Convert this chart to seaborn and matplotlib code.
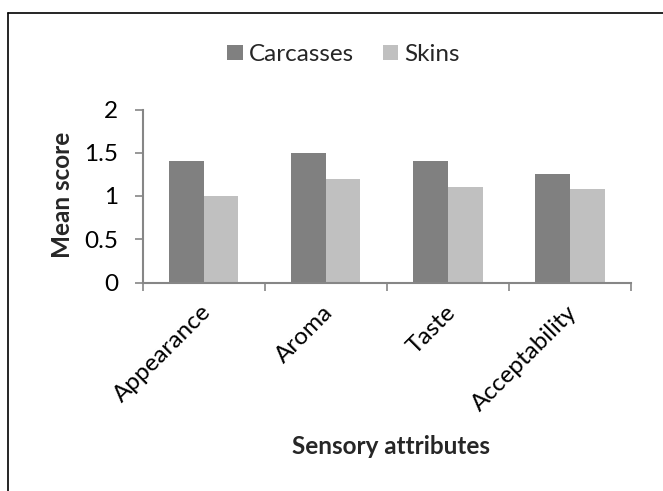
import matplotlib
matplotlib.use("Agg")
import matplotlib.pyplot as plt
import matplotlib.transforms as mtransforms
import seaborn as sns
import pandas as pd
from matplotlib.lines import Line2D
from matplotlib.patches import Patch

categories = ["Appearance", "Aroma", "Taste", "Acceptability"]
carcasses = [1.4, 1.5, 1.4, 1.25]
skins = [1.0, 1.2, 1.1, 1.08]
series_names = ["Carcasses", "Skins"]
y_ticks = [0, 0.5, 1, 1.5, 2]
y_tick_labels = ["0", "0.5", "1", "1.5", "2"]

df = pd.DataFrame({
    "Attribute": categories * 2,
    "Score": carcasses + skins,
    "Part": [series_names[0]] * 4 + [series_names[1]] * 4,
})

sns.set_theme(style="white")
plt.rcParams["font.family"] = ["Lato", "DejaVu Sans"]

colors = ["#808080", "#C0C0C0"]
axis_color = "#868686"
fs = 17.5

fig = plt.figure(figsize=(6.63, 4.91), dpi=100)
ax = fig.add_axes([142.5 / 663, 1 - 282.5 / 491, (631 - 142.5) / 663, (282.5 - 109.5) / 491])

sns.barplot(data=df, x="Attribute", y="Score", hue="Part", order=categories,
            hue_order=series_names, palette=colors, width=0.57, gap=0,
            saturation=1, edgecolor="none", ax=ax, legend=False)

ax.set_xlim(-0.5, 3.5)
ax.set_ylim(0, 2)
ax.set_yticks(y_ticks)
ax.set_yticklabels(y_tick_labels, fontsize=fs, color="black")
ax.set_xticks(range(len(categories)))
ax.set_xticklabels(categories, rotation=45, ha="right", va="center",
                   rotation_mode="anchor", fontsize=fs, color="black")
ax.set_xticks([i - 0.5 for i in range(len(categories) + 1)], minor=True)
ax.tick_params(axis="x", which="major", length=0, pad=19)
ax.tick_params(axis="x", which="minor", length=5.5, width=1.2, color=axis_color, direction="out", bottom=True)
ax.tick_params(axis="y", length=5.5, width=1.2, color=axis_color, direction="out", left=True, pad=12)
offset = mtransforms.ScaledTranslation(4 / 100, 0, fig.dpi_scale_trans)
for lab in ax.get_xticklabels():
    lab.set_transform(lab.get_transform() + offset)
ax.set_xlabel("")
ax.set_ylabel("")
for s in ["top", "right"]:
    ax.spines[s].set_visible(False)
for s in ["left", "bottom"]:
    ax.spines[s].set_color(axis_color)
    ax.spines[s].set_linewidth(1.5)
ax.grid(False)

handles = [Patch(facecolor=c, edgecolor="none") for c in colors]
fig.legend(handles, series_names, loc="center", bbox_to_anchor=(343.5 / 663, 1 - 54.5 / 491),
           ncol=2, frameon=False, fontsize=fs, handlelength=0.62, handleheight=0.62,
           handletextpad=0.25, columnspacing=1.2, borderpad=0, borderaxespad=0)

fig.text(62 / 663, 1 - 194.5 / 491, "Mean score", rotation=90, ha="center", va="center",
         fontsize=fs, fontweight="bold")
fig.text(391 / 663, 1 - 447 / 491, "Sensory attributes", ha="center", va="center",
         fontsize=fs, fontweight="bold")

# chart border (left and top edges visible)
fig.add_artist(Line2D([8 / 663, 8 / 663], [0, 1 - 13 / 491], transform=fig.transFigure, color="black", lw=1.2))
fig.add_artist(Line2D([8 / 663, 1], [1 - 13 / 491, 1 - 13 / 491], transform=fig.transFigure, color="black", lw=1.2))

fig.savefig("out.png", dpi=100)
